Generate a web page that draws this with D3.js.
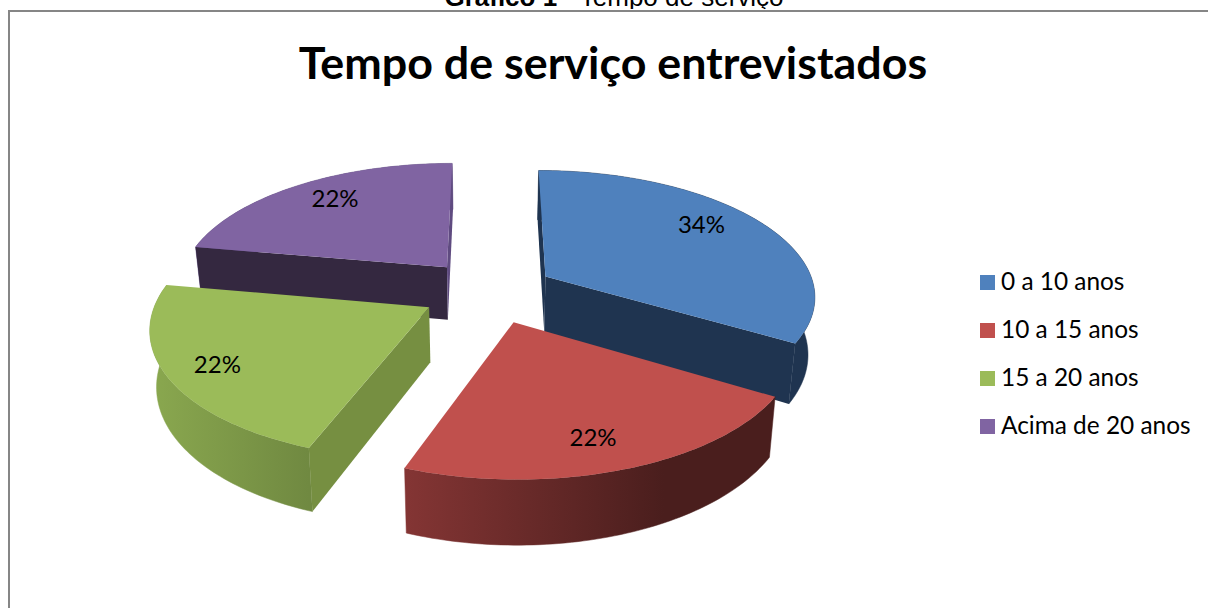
<!DOCTYPE html>
<html>
<head>
<meta charset="utf-8">
<script src="https://cdn.jsdelivr.net/npm/d3@7"></script>
<style>
  html, body { margin: 0; padding: 0; background: #fff; overflow: hidden; }
  text { font-family: Lato, "Open Sans", sans-serif; fill: #000; }
</style>
</head>
<body>
<svg id="chart" width="1208" height="608"></svg>
<script>
// data
var categories = ["0 a 10 anos", "10 a 15 anos", "15 a 20 anos", "Acima de 20 anos"];
var percents = [33.6, 22.05, 22.15, 22.2];
var topColors = ["#4f81bd", "#c0504d", "#9bbb59", "#8064a2"];
var cutColors = ["#1f3450", "#4c1f1e", "#768f41", "#342840"];
var wallFrom = ["#1f3450", "#843534", "#8aa84f", "#5f4b80"];
var wallTo = ["#1f3450", "#4a1e1d", "#708941", "#5f4b80"];

// pie "camera"
var cx = 490, cy = 291, radiusX = 270, tiltY = 125, persp = 0.143, shrink = 0.02 / 54;
var depth = [57, 54, 54, 54];
var explode = [0.24, 0.255, 0.255, 0.255];

var svg = d3.select("#chart");
var defs = svg.append("defs");

// header of the page above the chart, cut by the chart frame
var header = svg.append("text")
  .attr("x", 614).attr("y", 6)
  .attr("text-anchor", "middle")
  .style("font-family", "'Liberation Sans', Arial, sans-serif")
  .style("font-size", "26px");
header.append("tspan").style("font-weight", "bold").text("Gráfico 1");
header.append("tspan").text(" - Tempo de serviço");

// chart frame
svg.append("rect").attr("x", 0).attr("y", 9).attr("width", 1208).attr("height", 599).attr("fill", "#fff");
svg.append("path")
  .attr("d", "M9,608V11H1208")
  .attr("fill", "none")
  .attr("stroke", "#868686")
  .attr("stroke-width", 2);

svg.append("text")
  .attr("x", 613).attr("y", 79)
  .attr("text-anchor", "middle")
  .style("font-size", "44.8px")
  .style("font-weight", "bold")
  .text("Tempo de serviço entrevistados");

// world position of a slice point -> screen, lift pushes it down to the pie's bottom
function project(p, lift) {
  var s = 1 / (1 - persp * p[1]);
  return [
    cx + radiusX * p[0] * s * (1 - shrink * lift),
    cy + tiltY * p[1] * s + lift * s
  ];
}

function polar(center, angle, r) {
  return [center[0] + r * Math.sin(angle), center[1] - r * Math.cos(angle)];
}

var pie = d3.pie().sort(null)(percents);
var line = d3.line();

var slices = pie.map(function(d) {
  var mid = (d.startAngle + d.endAngle) / 2;
  var center = polar([0, 0], mid, explode[d.index]);
  var rim = d3.range(d.startAngle, d.endAngle, 0.02).concat([d.endAngle])
    .map(function(a) { return polar(center, a, 1); });
  return {i: d.index, mid: mid, center: center, rim: rim};
});

// paint back slices first
slices.sort(function(a, b) { return Math.cos(b.mid) - Math.cos(a.mid); });

var pieG = svg.append("g");

slices.forEach(function(sl) {
  var g = pieG.append("g");
  var rimTop = sl.rim.map(function(p) { return project(p, 0); });
  var rimBottom = sl.rim.map(function(p) { return project(p, depth[sl.i]); });
  var apexTop = project(sl.center, 0);
  var apexBottom = project(sl.center, depth[sl.i]);

  var gradId = "wall" + sl.i;
  var xs = d3.extent(rimTop, function(p) { return p[0]; });
  var grad = defs.append("linearGradient")
    .attr("id", gradId)
    .attr("gradientUnits", "userSpaceOnUse")
    .attr("x1", xs[0]).attr("y1", 0)
    .attr("x2", sl.i === 1 ? xs[0] + 0.7 * (xs[1] - xs[0]) : xs[1]).attr("y2", 0);
  grad.append("stop").attr("offset", 0).attr("stop-color", wallFrom[sl.i]);
  grad.append("stop").attr("offset", 1).attr("stop-color", wallTo[sl.i]);

  // outer wall
  g.append("path")
    .attr("d", line(rimTop.concat(rimBottom.slice().reverse())) + "Z")
    .attr("fill", "url(#" + gradId + ")")
    .attr("stroke", "url(#" + gradId + ")")
    .attr("stroke-width", 0.5);

  // the two cut faces, only when they turn to the viewer
  var first = rimTop[0], last = rimTop[rimTop.length - 1];
  if (first[0] < apexTop[0]) {
    g.append("path")
      .attr("d", line([apexTop, first, rimBottom[0], apexBottom]) + "Z")
      .attr("fill", cutColors[sl.i]);
  }
  if (last[0] > apexTop[0]) {
    g.append("path")
      .attr("d", line([apexTop, last, rimBottom[rimBottom.length - 1], apexBottom]) + "Z")
      .attr("fill", sl.i === 3 ? wallFrom[3] : cutColors[sl.i]);
  }

  // top face
  g.append("path")
    .attr("d", line([apexTop].concat(rimTop)) + "Z")
    .attr("fill", topColors[sl.i]);
});

// percent labels
var labelShift = [[-6, -9], [-1, 10], [-19, 7], [2, -5]];
slices.forEach(function(sl) {
  var pos = project(polar(sl.center, sl.mid, 0.75), 0);
  svg.append("text")
    .attr("x", pos[0] + labelShift[sl.i][0])
    .attr("y", pos[1] + labelShift[sl.i][1] + 8)
    .attr("text-anchor", "middle")
    .style("font-size", "24px")
    .text(Math.round(percents[sl.i]) + "%");
});

// legend
var legendY = d3.scalePoint().domain(categories).range([275, 419]);
var legend = svg.append("g").selectAll("g")
  .data(categories)
  .enter()
  .append("g")
  .attr("transform", function(d) { return "translate(980," + legendY(d) + ")"; });
legend.append("rect")
  .attr("width", 15).attr("height", 15)
  .attr("fill", function(d, i) { return topColors[i]; });
legend.append("text")
  .attr("x", 21).attr("y", 15)
  .style("font-size", "24.4px")
  .text(function(d) { return d; });
</script>
</body>
</html>
